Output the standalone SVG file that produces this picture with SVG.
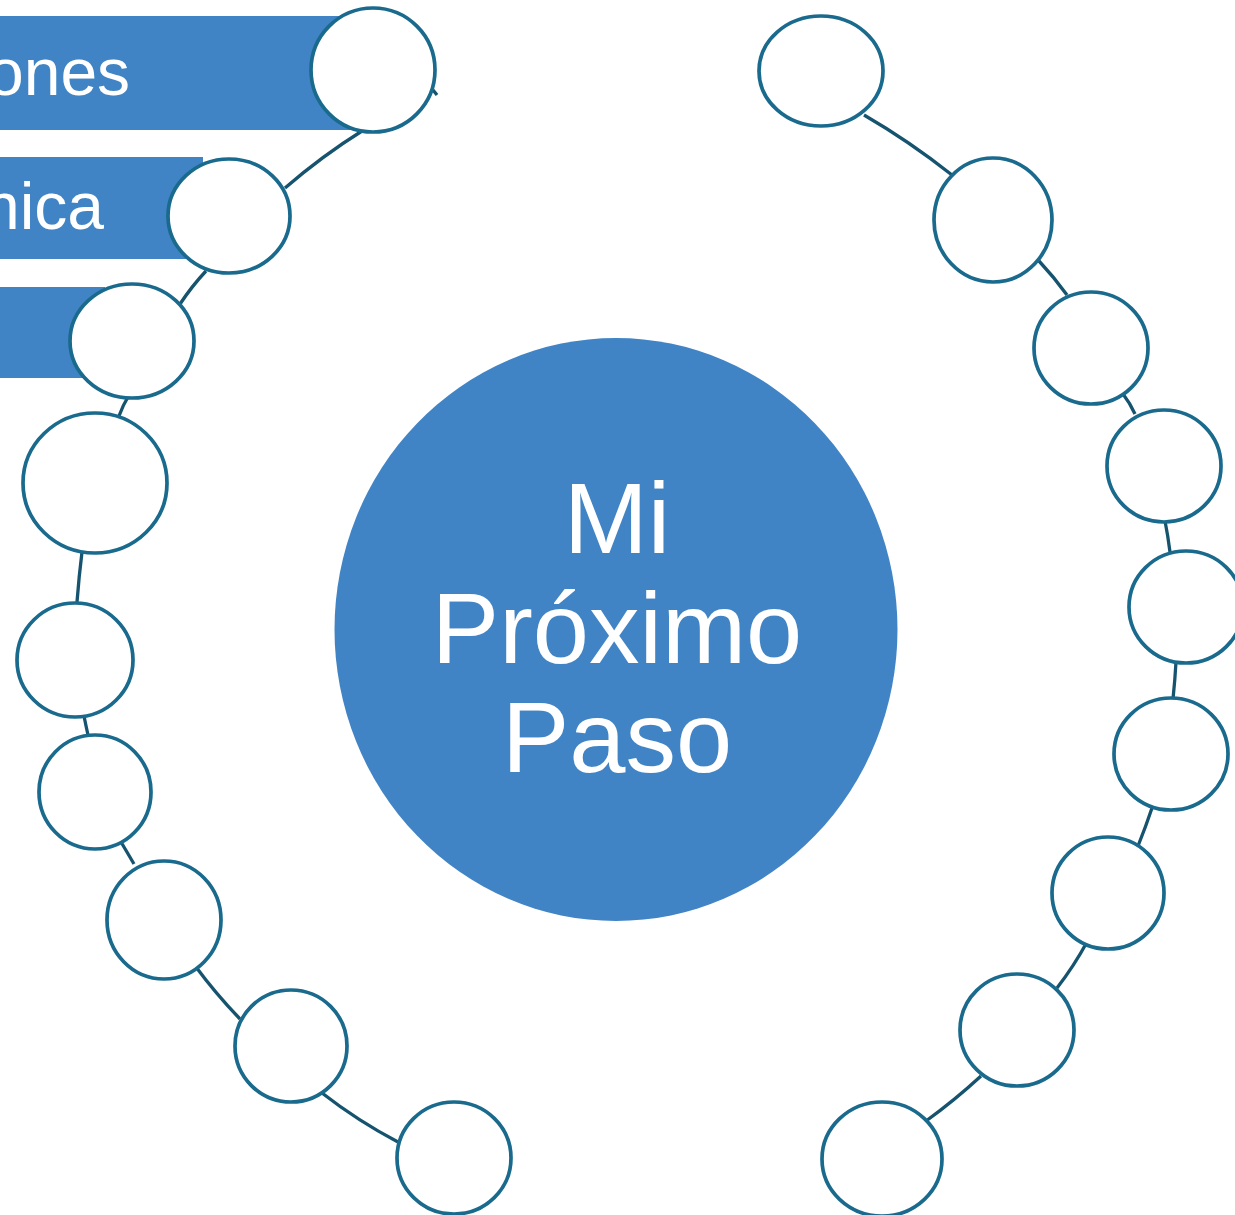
<svg xmlns="http://www.w3.org/2000/svg" width="1235" height="1215" viewBox="0 0 1235 1215">
<style>
.bar{fill:#4084C5}
.node{fill:#FFFFFF;stroke:#196A8D;stroke-width:3.7}
.conn{fill:none;stroke:#15536F;stroke-width:3.3}
.lbl{font-family:"Liberation Sans",Arial,sans-serif;fill:#FFFFFF}
</style>
<rect width="1235" height="1215" fill="#FFFFFF"/>
<g id="bars">
<g id="bar1"><rect class="bar" x="0" y="16" width="370" height="114"/><text class="lbl" x="-13" y="95" font-size="66">ones</text></g>
<g id="bar2"><rect class="bar" x="0" y="157" width="203" height="102"/><text class="lbl" x="-17" y="229" font-size="66">nica</text></g>
<g id="bar3"><rect class="bar" x="0" y="287" width="105" height="91"/></g>
</g>
<g id="connectors">
<path class="conn" d="M362,131 Q322,156 285,188"/>
<path class="conn" d="M206,271 Q192,286 180,304"/>
<path class="conn" d="M128,397 Q123,405 119,416"/>
<path class="conn" d="M82,552 Q79,576 77,602"/>
<path class="conn" d="M84,716 Q86,726 88,735"/>
<path class="conn" d="M121,842 Q127,852 134,864"/>
<path class="conn" d="M196,967 Q216,994 240,1019"/>
<path class="conn" d="M322,1093 Q358,1121 398,1142"/>
<path class="conn" d="M433,90 L437,95"/>
<path class="conn" d="M864,115 Q909,141 952,175"/>
<path class="conn" d="M1039,261 Q1054,277 1067,295"/>
<path class="conn" d="M1123,394 Q1130,403 1135,414"/>
<path class="conn" d="M1165,521 Q1168,536 1170,552"/>
<path class="conn" d="M1176,662 Q1175,680 1173,699"/>
<path class="conn" d="M1152,808 Q1146,826 1138,846"/>
<path class="conn" d="M1087,942 Q1074,966 1057,988"/>
<path class="conn" d="M981,1076 Q955,1100 926,1121"/>
</g>
<g id="left-chain">
<ellipse id="L1" class="node" cx="373" cy="70" rx="62" ry="62"/>
<ellipse id="L2" class="node" cx="229" cy="216" rx="61" ry="57"/>
<ellipse id="L3" class="node" cx="132" cy="341" rx="62" ry="57"/>
<ellipse id="L4" class="node" cx="95" cy="483" rx="72" ry="70"/>
<ellipse id="L5" class="node" cx="75" cy="660" rx="58" ry="57"/>
<ellipse id="L6" class="node" cx="95" cy="792" rx="56" ry="57"/>
<ellipse id="L7" class="node" cx="164" cy="920" rx="57" ry="59"/>
<ellipse id="L8" class="node" cx="291" cy="1046" rx="56" ry="56"/>
<ellipse id="L9" class="node" cx="454" cy="1158" rx="57" ry="56"/>
</g>
<g id="right-chain">
<ellipse id="R1" class="node" cx="821" cy="71" rx="62" ry="55"/>
<ellipse id="R2" class="node" cx="993" cy="220" rx="59" ry="62"/>
<ellipse id="R3" class="node" cx="1091" cy="348" rx="57" ry="56"/>
<ellipse id="R4" class="node" cx="1164" cy="466" rx="57" ry="56"/>
<ellipse id="R5" class="node" cx="1186" cy="607" rx="57" ry="56"/>
<ellipse id="R6" class="node" cx="1171" cy="754" rx="57" ry="56"/>
<ellipse id="R7" class="node" cx="1108" cy="893" rx="56" ry="56"/>
<ellipse id="R8" class="node" cx="1017" cy="1030" rx="57" ry="56"/>
<ellipse id="R9" class="node" cx="882" cy="1159" rx="60" ry="57"/>
</g>
<g id="center">
<ellipse cx="616" cy="629.5" rx="281.5" ry="291.5" fill="#4084C5"/>
<text class="lbl" text-anchor="middle" font-size="101"><tspan x="617" y="553">Mi</tspan><tspan x="617" y="663">Próximo</tspan><tspan x="617" y="772">Paso</tspan></text>
</g>
</svg>
